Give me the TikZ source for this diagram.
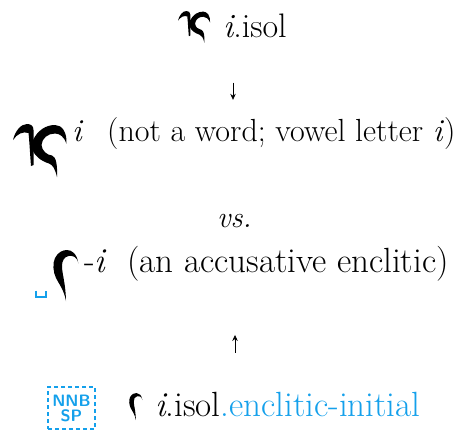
\documentclass[tikz,border=0pt]{standalone}
\usepackage{fontspec}
\usepackage{tikz}
\usetikzlibrary{arrows.meta}
\definecolor{tagblue}{RGB}{20,160,235}

\begin{document}
\begin{tikzpicture}[x=1pt,y=-1pt,
  txt/.style={inner sep=0pt,anchor=base west},
  arr/.style={draw,line width=0.8pt,-{Stealth[length=6pt,width=5.5pt]}},
  pics/glyphK/.style={code={
    \fill (0,16) .. controls (2,7) and (8,0) .. (14,0) .. controls (18,0) and (20.5,2) .. (20.5,6) .. controls (20.5,18) and (21,30) .. (20.5,41) -- (18,42) .. controls (17,30) and (16.5,18) .. (15.5,9) .. controls (10,7) and (4,10) .. (0,16) -- cycle;
    \fill (20,16) .. controls (25,6) and (33,1) .. (42,1) .. controls (49,1) and (54,8) .. (53.5,19.5) .. controls (51,13) and (47,9.5) .. (42,9.5) .. controls (35,9.5) and (29,14) .. (28.5,21) .. controls (29,27) and (34,31) .. (39,31.5) .. controls (43,33) and (44.5,40) .. (44,53) .. controls (42,45) and (40,41) .. (36,39.5) .. controls (28,37) and (22,32) .. (20,27) -- cycle;
  }},
  pics/glyphI/.style={code={
    \fill (25.3,13.3) .. controls (24,6) and (19,5.5) .. (15.5,6) .. controls (11,7) and (9,11) .. (9,16) .. controls (9,24) and (12.5,32) .. (13,51) .. controls (11,40) and (6,34) .. (3,28) .. controls (0,22) and (-0.5,13) .. (2,8) .. controls (5,2) and (10,0) .. (14,0) .. controls (19,0) and (24,4) .. (25.3,13.3) -- cycle;
  }}]
\def\fA{\fontsize{34}{40}\selectfont}
\def\fB{\fontsize{32}{38}\selectfont}
\def\fC{\fontsize{30}{36}\selectfont}
\def\fD{\fontsize{35}{42}\selectfont}
\useasboundingbox (0,0) rectangle (457,432);
\coordinate (mid) at (233,0);
\coordinate (midup) at (235,0);
\pic[scale=0.6] at (178,11) {glyphK};
\node[txt,font=\fA] (iso) at (223,37) {\textit{i}.isol};
\pic at (13,124) {glyphK};
\node[txt,font=\fB] (vow) at (72,141) {\textit{i}};
\node[txt,font=\fB] (word) at (107,141) {(not a word; vowel letter \textit{i})};
\node[txt,font=\fC] (vs) at (217,227) {\textit{vs.}};
\draw[tagblue,line width=2pt] (36,290.5) -- (36,297) -- (46,297) -- (46,290.5);
\pic at (53,250) {glyphI};
\node[txt,font=\fD] (enc) at (84,272) {-\textit{i}};
\node[txt,font=\fD] (accus) at (127,272) {(an accusative enclitic)};
\node[draw=tagblue,dash pattern=on 4pt off 3pt,line width=1.6pt,minimum width=47pt,minimum height=42pt,inner sep=0pt,align=center,text=tagblue,font=\sffamily\bfseries\fontsize{16.5}{15}\selectfont] (nnbsp) at (71.5,408) {NNB\\SP};
\pic[scale=0.53] at (129,393) {glyphI};
\node[txt,font=\fD] (tag) at (155,416) {\textit{i}.isol\textcolor{tagblue}{.enclitic-initial}};
\draw[arr,shorten <=45pt,shorten >=17pt] (iso.south -| mid) -- (word.north -| mid);
\draw[arr,shorten <=39pt,shorten >=54pt] (tag.north -| midup) -- (accus.south -| midup);
\end{tikzpicture}
\end{document}
